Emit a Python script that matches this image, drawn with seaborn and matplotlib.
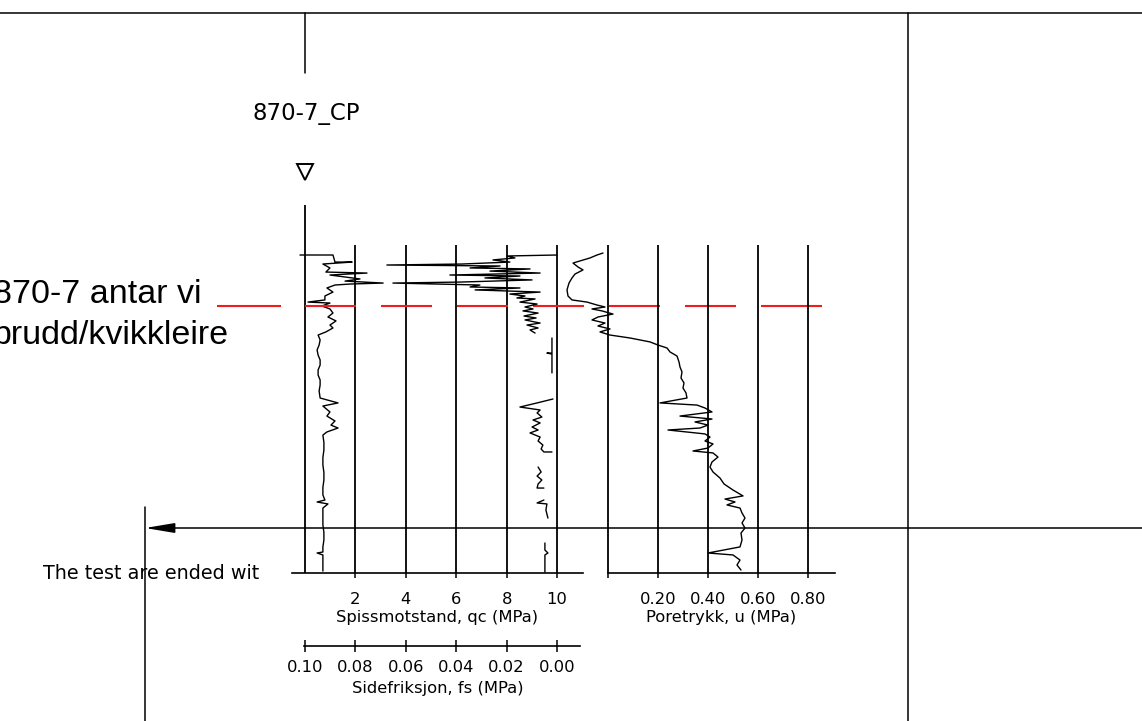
import numpy as np
import pandas as pd
import matplotlib
matplotlib.use("Agg")
import matplotlib.pyplot as plt
import seaborn as sns

sns.set_style("white")
plt.rcParams["font.family"] = ["DejaVu Sans"]
plt.rcParams["text.color"] = "black"
plt.rcParams["axes.labelcolor"] = "black"
plt.rcParams["xtick.color"] = "black"
plt.rcParams["xtick.bottom"] = True
plt.rcParams["lines.scale_dashes"] = False
nan = np.nan

# CPTU sounding 870-7, depth in metres below start of sounding
qc_depth = [0.61, 0.61, 1.04, 1.04, 1.16, 1.40, 1.65, 1.71, 1.83, 2.07, 2.20, 2.32, 2.38, 2.44,
            2.62, 2.87, 3.11, 3.35, 3.48, 3.54, 3.72, 3.90, 4.15, 4.39, 4.63, 4.88, 5.06, 5.30,
            5.49, 5.79, 6.10, 6.40, 6.71, 7.01, 7.32, 7.62, 7.93, 8.23, 8.54, 8.90, 9.33, 9.63,
            9.82, 10.18, 10.43, 10.73, 10.98, 11.16, 11.40, 11.59, 12.04, 12.50, 12.96, 13.41,
            13.87, 14.33, 14.79, 15.24, 15.55, 15.67, 15.79, 16.04, 16.55, 17.07, 17.53, 17.99,
            18.41, 18.72, 18.78, 18.90, 19.21, 19.51, 19.88]
qc_mpa = [-0.20, 1.11, 1.19, 1.87, 0.71, 0.99, 0.83, 2.46, 0.99, 2.18, 1.59, 3.10, 1.79, 1.19,
          0.87, 1.11, 0.79, 0.79, 0.12, 0.99, 0.67, 0.99, 1.11, 0.91, 1.23, 0.99, 1.11, 0.83,
          0.52, 0.60, 0.56, 0.48, 0.52, 0.60, 0.60, 0.52, 0.52, 0.60, 0.60, 0.56, 0.60, 1.31,
          0.71, 0.99, 0.87, 1.19, 1.03, 1.31, 0.87, 0.71, 0.75, 0.75, 0.71, 0.71,
          0.75, 0.75, 0.71, 0.71, 0.79, 0.48, 0.91, 0.71, 0.71, 0.71, 0.75, 0.75,
          0.71, 0.71, 0.48, 0.71, 0.71, 0.71, 0.71]

# sleeve friction, nan marks intervals without readings
fs_depth = [0.61, 0.67, 0.79, 0.91, 1.04, 1.16, 1.22, 1.28, 1.40, 1.46, 1.59, 1.71, 1.83, 1.89,
            2.01, 2.13, 2.26, 2.32, 2.44, 2.56, 2.62, 2.74, 2.87, 2.99, 3.11, 3.23, 3.29, 3.48,
            3.60, 3.78, 3.90, 4.02, 4.15, 4.33, 4.45, 4.57, 4.76, 4.88, 5.06, 5.18, 5.37,
            nan,
            5.67, 6.59, 6.59, 6.65, 7.80,
            nan,
            9.39, 9.63, 9.88, 10.06, 10.24, 10.49, 10.67, 10.85, 11.10, 11.28, 11.46, 11.71,
            11.95, 12.20, 12.44, 12.62, 12.62,
            nan,
            13.54, 13.84, 14.09, 14.33, 14.57, 14.82, 14.82,
            nan,
            15.55, 15.73, 15.79, 16.16, 16.65,
            nan,
            18.17, 18.60, 18.78, 18.90, 19.94]
fs_mpa = [0.0000, 0.0198, 0.0167, 0.0254, 0.0187, 0.0377, 0.0675, 0.0226, 0.0345, 0.0107,
          0.0266, 0.0067, 0.0425, 0.0147, 0.0286, 0.0099, 0.0385, 0.0651, 0.0306, 0.0345,
          0.0147, 0.0325, 0.0067, 0.0187, 0.0127, 0.0159, 0.0087, 0.0147, 0.0079, 0.0127,
          0.0095, 0.0135, 0.0075, 0.0131, 0.0083, 0.0127, 0.0067, 0.0119, 0.0075, 0.0107, 0.0087,
          nan,
          0.0020, 0.0020, 0.0040, 0.0020, 0.0020,
          nan,
          0.0016, 0.0079, 0.0147, 0.0067, 0.0079, 0.0060, 0.0095, 0.0067, 0.0099, 0.0075,
          0.0107, 0.0067, 0.0075, 0.0056, 0.0063, 0.0052, 0.0020,
          nan,
          0.0075, 0.0063, 0.0079, 0.0060, 0.0075, 0.0079, 0.0052,
          nan,
          0.0052, 0.0079, 0.0040, 0.0044, 0.0036,
          nan,
          0.0048, 0.0048, 0.0036, 0.0048, 0.0048]

u_depth = [0.49, 0.61, 0.79, 1.10, 1.34, 1.52, 1.77, 2.01, 2.32, 2.74, 3.11, 3.35, 3.48, 3.66,
           3.78, 3.90, 4.02, 4.21, 4.39, 4.57, 4.76, 4.94, 5.12, 5.30, 5.49, 5.67, 5.91, 6.10,
           6.28, 6.52, 6.77, 7.13, 7.44, 7.74, 8.11, 8.41, 8.72, 9.02, 9.33, 9.63, 9.76, 9.94,
           10.18, 10.43, 10.61, 10.79, 10.98, 11.16, 11.28, 11.52, 11.71, 11.95, 12.13, 12.38,
           12.56, 12.68, 12.93, 13.23, 13.54, 13.84, 14.21, 14.57, 14.94, 15.30, 15.49, 15.67,
           15.85, 16.04, 16.34, 16.65, 16.95, 17.26, 17.56, 17.99, 18.41, 18.78, 18.90, 19.21,
           19.51, 19.82]
u_mpa = [-0.020, -0.044, -0.072, -0.140, -0.120, -0.100, -0.132, -0.144, -0.156, -0.164,
         -0.160, -0.144, -0.084, -0.044, -0.012, -0.064, -0.024, 0.020, -0.040, -0.064,
         -0.012, -0.040, 0.008, -0.032, 0.008, 0.088, 0.168, 0.200, 0.236, 0.248,
         0.276, 0.284, 0.288, 0.296, 0.292, 0.304, 0.300, 0.312, 0.316, 0.208,
         0.356, 0.388, 0.416, 0.288, 0.416, 0.348, 0.400, 0.368, 0.240, 0.388,
         0.408, 0.388, 0.420, 0.400, 0.340, 0.420, 0.440, 0.416, 0.408, 0.420,
         0.448, 0.464, 0.500, 0.540, 0.468, 0.508, 0.476, 0.528, 0.536, 0.548,
         0.536, 0.548, 0.532, 0.536, 0.528, 0.400, 0.500, 0.528, 0.516, 0.532]

qc_ticks = [2, 4, 6, 8, 10]
qc_tick_labels = ["2", "4", "6", "8", "10"]
fs_ticks = [0.10, 0.08, 0.06, 0.04, 0.02, 0.00]
fs_tick_labels = ["0.10", "0.08", "0.06", "0.04", "0.02", "0.00"]
u_ticks = [0.0, 0.2, 0.4, 0.6, 0.8]
u_tick_labels = ["", "0.20", "0.40", "0.60", "0.80"]

sounding_name = "870-7_CP"
stop_note = "The test are ended wit"
remark_lines = ["870-7 antar vi", "brudd/kvikkleire"]
quick_clay_depth = 3.72      # interpreted failure surface / quick clay
sounding_end = 20.0

# ---- drawing geometry (pixels on a 1142 x 721 sheet) ----
W, H = 1142, 721
PX_M = 16.4          # px per metre depth
PX_QC = 25.2         # px per MPa cone resistance
PX_U = 250.0         # px per MPa pore pressure
top_depth = -40 / PX_M


def box(x0, y0, x1, y1):
    return [x0 / W, 1 - y1 / H, (x1 - x0) / W, (y1 - y0) / H]


fig = plt.figure(figsize=(W / 100, H / 100), dpi=100, facecolor="white")

# sheet layer for frame, texts and symbols
sheet = fig.add_axes([0, 0, 1, 1])
sheet.set_xlim(0, W)
sheet.set_ylim(H, 0)
sheet.axis("off")
sheet.patch.set_visible(False)

ax_qc = fig.add_axes(box(292, 205, 583, 573))
ax_fs = fig.add_axes(box(292, 205, 583, 573))
ax_u = fig.add_axes(box(608, 205, 835, 573))
for ax in (ax_qc, ax_fs, ax_u):
    ax.patch.set_visible(False)
    for side in ("top", "right", "left"):
        ax.spines[side].set_visible(False)
    ax.spines["bottom"].set_linewidth(1.2)
    ax.spines["bottom"].set_color("black")
    ax.set_yticks([])

LW = 1.0
GRID_LW = 1.3
qc_df = pd.DataFrame({"depth": qc_depth, "qc": qc_mpa})
sns.lineplot(data=qc_df, x="qc", y="depth", sort=False, estimator=None,
             color="black", lw=LW, ax=ax_qc, zorder=3)

fs_df = pd.DataFrame({"depth": fs_depth, "fs": fs_mpa})
fs_df["seg"] = fs_df["fs"].isna().cumsum()
fs_df = fs_df.dropna()
sns.lineplot(data=fs_df, x="fs", y="depth", units="seg", sort=False, estimator=None,
             color="black", lw=LW, ax=ax_fs, zorder=3)

u_df = pd.DataFrame({"depth": u_depth, "u": u_mpa})
sns.lineplot(data=u_df, x="u", y="depth", sort=False, estimator=None,
             color="black", lw=LW, ax=ax_u, zorder=3, clip_on=False)

for ax in (ax_qc, ax_fs, ax_u):
    ax.set_ylim(sounding_end, top_depth)
    ax.set_ylabel("")

# cone resistance scale
ax_qc.set_xlim(-13 / PX_QC, 278 / PX_QC)
ax_qc.axvline(0, color="black", lw=GRID_LW, zorder=2)
ax_qc.vlines(qc_ticks, 0, sounding_end, color="black", lw=GRID_LW, zorder=2)
ax_qc.set_xticks(qc_ticks, qc_tick_labels)
ax_qc.tick_params(axis="x", bottom=True, direction="out", length=3.6, width=1.1, pad=10.4,
                  labelsize=11.8, colors="black")
ax_qc.set_xlabel("Spissmotstand, qc (MPa)", fontsize=11.8, labelpad=2)

# sleeve friction scale (reversed, below the cone scale)
ax_fs.set_xlim((557 - 292) / 2520, (557 - 583) / 2520)
ax_fs.spines["bottom"].set_position(("outward", 52.6))
ax_fs.spines["bottom"].set_bounds(-0.0091, 0.1004)
ax_fs.set_xticks(fs_ticks, fs_tick_labels)
ax_fs.tick_params(axis="x", bottom=True, direction="inout", length=8.6, width=1.1, pad=5.4,
                  labelsize=11.8, colors="black")
ax_fs.set_xlabel("Sidefriksjon, fs (MPa)", fontsize=11.8, labelpad=4.8)

# pore pressure scale
ax_u.set_xlim(0, 227 / PX_U)
ax_u.vlines(u_ticks, 0, sounding_end, color="black", lw=GRID_LW, zorder=2, clip_on=False)
ax_u.set_xticks(u_ticks, u_tick_labels)
ax_u.tick_params(axis="x", bottom=True, direction="out", length=3.6, width=1.1, pad=10.4,
                 labelsize=11.8, colors="black")
ax_u.set_xlabel("Poretrykk, u (MPa)", fontsize=11.8, labelpad=2)

# interpreted quick clay level across all columns
dash_px = [64, 24, 51, 25, 51, 25, 51, 25, 51, 25, 51, 25, 51, 25, 63, 60]
ax_qc.plot([(217 - 305) / PX_QC, (822 - 305) / PX_QC], [quick_clay_depth] * 2,
           color="#ee1c1c", lw=1.5, ls=(0, [d * 0.72 for d in dash_px]),
           clip_on=False, zorder=4)

# frame of the drawing sheet
frame_kw = dict(color="black", lw=1.1)
sheet.plot([0, W], [13, 13], **frame_kw)
sheet.plot([305, 305], [13, 73], **frame_kw)
sheet.plot([908, 908], [13, H], **frame_kw)
sheet.plot([145, 145], [507, H], **frame_kw)
sheet.annotate("", xy=(145, 528), xytext=(W, 528),
               arrowprops=dict(arrowstyle="-|>,head_length=1.8,head_width=0.3",
                               mutation_scale=10, lw=1.1, color="black",
                               shrinkA=0, shrinkB=0))

# sounding name and ground water symbol
sheet.text(253, 120, sounding_name, fontsize=16.5, va="baseline", ha="left")
sheet.plot([305], [172], marker="v", ms=11, mfc="white", mec="black", mew=1.4)
sheet.text(43, 579, stop_note, fontsize=13.8, va="baseline", ha="left")

for i, line in enumerate(remark_lines):
    sheet.text(-7, 303 + 41 * i, line, family=["Liberation Sans", "DejaVu Sans"],
               fontsize=24.5, va="baseline", ha="left")

fig.savefig("out.png", dpi=100, facecolor="white")
